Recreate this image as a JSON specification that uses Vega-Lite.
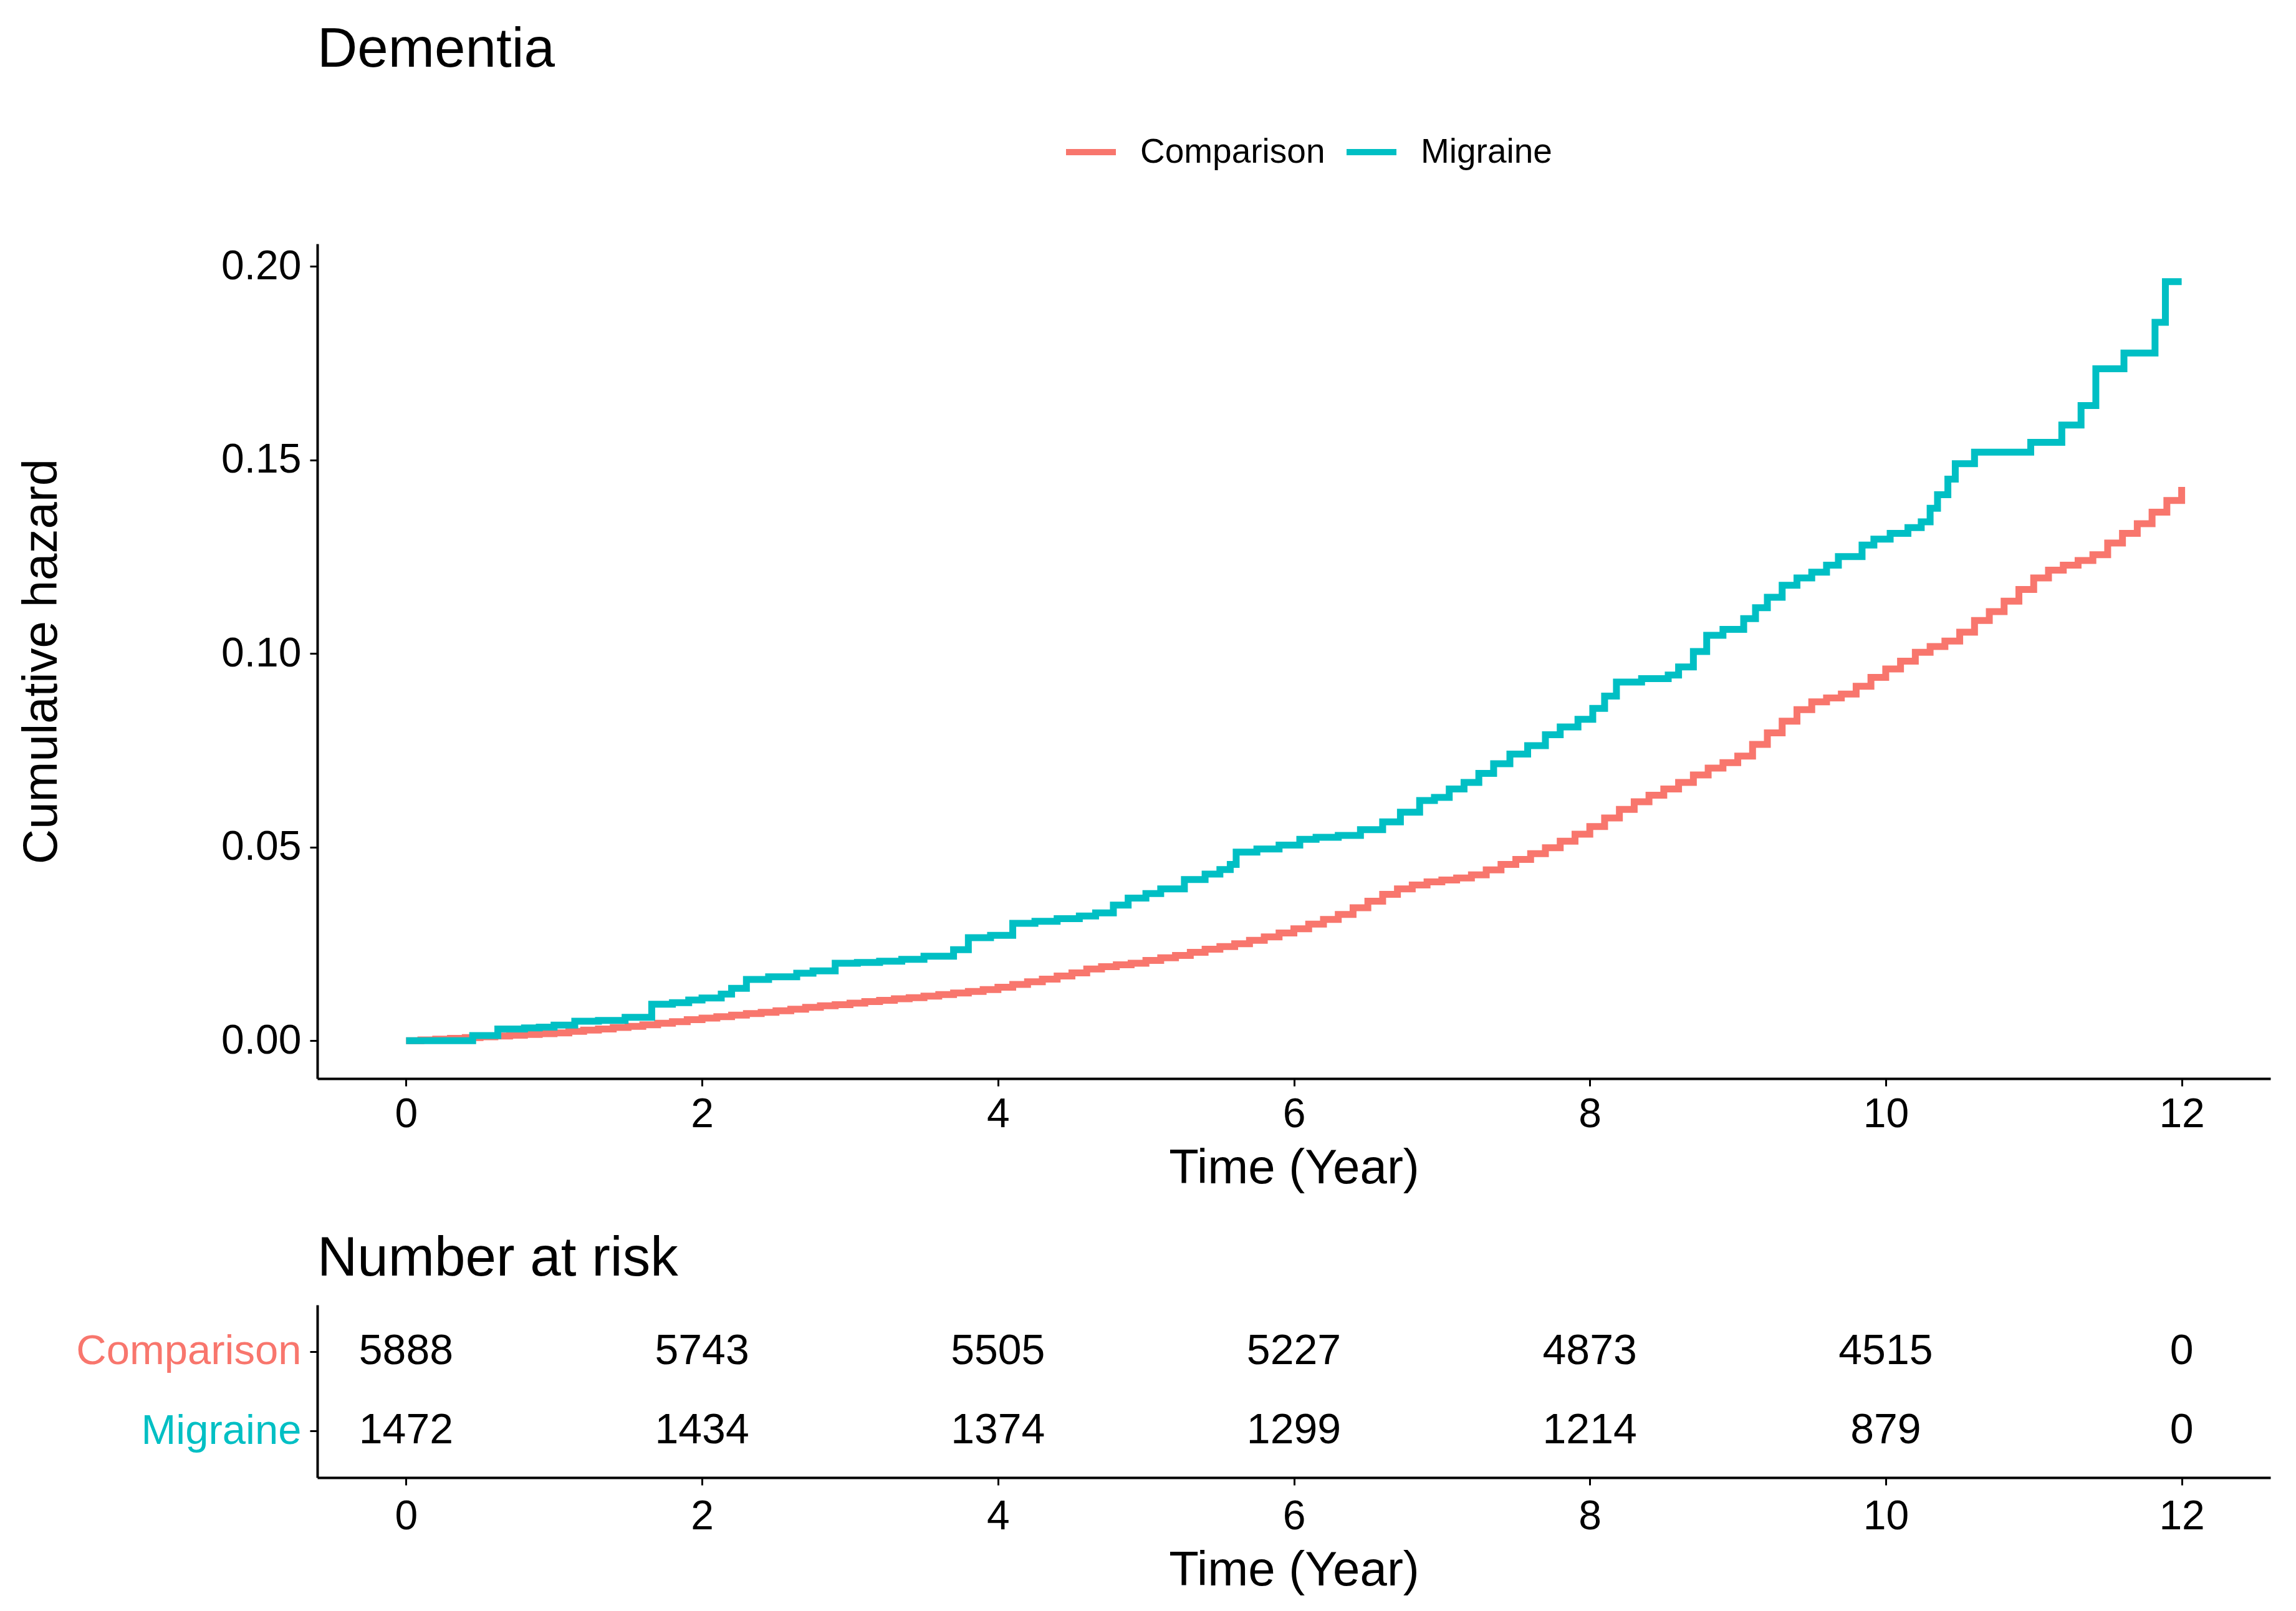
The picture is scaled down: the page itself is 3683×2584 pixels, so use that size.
{
  "$schema": "https://vega.github.io/schema/vega-lite/v6.json",
  "background": "white",
  "padding": {"left": 28, "top": 36, "right": 30, "bottom": 27},
  "config": {"font": "Liberation Sans", "view": {"stroke": null}, "concat": {"spacing": 62}},
  "datasets": {
    "hazard": [
      {"group": "Comparison", "time": 0.0, "hazard": 0},
      {"group": "Comparison", "time": 0.1, "hazard": 0.0002},
      {"group": "Comparison", "time": 0.2, "hazard": 0.0004},
      {"group": "Comparison", "time": 0.3, "hazard": 0.0006},
      {"group": "Comparison", "time": 0.4, "hazard": 0.0008},
      {"group": "Comparison", "time": 0.5, "hazard": 0.001},
      {"group": "Comparison", "time": 0.6, "hazard": 0.0012},
      {"group": "Comparison", "time": 0.7, "hazard": 0.0014},
      {"group": "Comparison", "time": 0.8, "hazard": 0.0016},
      {"group": "Comparison", "time": 0.9, "hazard": 0.0018},
      {"group": "Comparison", "time": 1.0, "hazard": 0.002},
      {"group": "Comparison", "time": 1.1, "hazard": 0.0024},
      {"group": "Comparison", "time": 1.2, "hazard": 0.0027},
      {"group": "Comparison", "time": 1.3, "hazard": 0.003},
      {"group": "Comparison", "time": 1.4, "hazard": 0.0034},
      {"group": "Comparison", "time": 1.5, "hazard": 0.0037},
      {"group": "Comparison", "time": 1.6, "hazard": 0.0041},
      {"group": "Comparison", "time": 1.7, "hazard": 0.0045},
      {"group": "Comparison", "time": 1.8, "hazard": 0.0049},
      {"group": "Comparison", "time": 1.9, "hazard": 0.0054},
      {"group": "Comparison", "time": 2.0, "hazard": 0.0058},
      {"group": "Comparison", "time": 2.1, "hazard": 0.0062},
      {"group": "Comparison", "time": 2.2, "hazard": 0.0066},
      {"group": "Comparison", "time": 2.3, "hazard": 0.007},
      {"group": "Comparison", "time": 2.4, "hazard": 0.0073},
      {"group": "Comparison", "time": 2.5, "hazard": 0.0077},
      {"group": "Comparison", "time": 2.6, "hazard": 0.0081},
      {"group": "Comparison", "time": 2.7, "hazard": 0.0086},
      {"group": "Comparison", "time": 2.8, "hazard": 0.009},
      {"group": "Comparison", "time": 2.9, "hazard": 0.0093},
      {"group": "Comparison", "time": 3.0, "hazard": 0.0097},
      {"group": "Comparison", "time": 3.1, "hazard": 0.0101},
      {"group": "Comparison", "time": 3.2, "hazard": 0.0104},
      {"group": "Comparison", "time": 3.3, "hazard": 0.0108},
      {"group": "Comparison", "time": 3.4, "hazard": 0.0111},
      {"group": "Comparison", "time": 3.5, "hazard": 0.0115},
      {"group": "Comparison", "time": 3.6, "hazard": 0.0119},
      {"group": "Comparison", "time": 3.7, "hazard": 0.0123},
      {"group": "Comparison", "time": 3.8, "hazard": 0.0127},
      {"group": "Comparison", "time": 3.9, "hazard": 0.0132},
      {"group": "Comparison", "time": 4.0, "hazard": 0.0138},
      {"group": "Comparison", "time": 4.1, "hazard": 0.0145},
      {"group": "Comparison", "time": 4.2, "hazard": 0.0152},
      {"group": "Comparison", "time": 4.3, "hazard": 0.0159},
      {"group": "Comparison", "time": 4.4, "hazard": 0.0167},
      {"group": "Comparison", "time": 4.5, "hazard": 0.0175},
      {"group": "Comparison", "time": 4.6, "hazard": 0.0185},
      {"group": "Comparison", "time": 4.7, "hazard": 0.0191},
      {"group": "Comparison", "time": 4.8, "hazard": 0.0196},
      {"group": "Comparison", "time": 4.9, "hazard": 0.0200},
      {"group": "Comparison", "time": 5.0, "hazard": 0.0207},
      {"group": "Comparison", "time": 5.1, "hazard": 0.0214},
      {"group": "Comparison", "time": 5.2, "hazard": 0.022},
      {"group": "Comparison", "time": 5.3, "hazard": 0.0228},
      {"group": "Comparison", "time": 5.4, "hazard": 0.0236},
      {"group": "Comparison", "time": 5.5, "hazard": 0.0243},
      {"group": "Comparison", "time": 5.6, "hazard": 0.025},
      {"group": "Comparison", "time": 5.7, "hazard": 0.0259},
      {"group": "Comparison", "time": 5.8, "hazard": 0.0268},
      {"group": "Comparison", "time": 5.9, "hazard": 0.0278},
      {"group": "Comparison", "time": 6.0, "hazard": 0.0289},
      {"group": "Comparison", "time": 6.1, "hazard": 0.0301},
      {"group": "Comparison", "time": 6.2, "hazard": 0.0313},
      {"group": "Comparison", "time": 6.3, "hazard": 0.0326},
      {"group": "Comparison", "time": 6.4, "hazard": 0.0343},
      {"group": "Comparison", "time": 6.5, "hazard": 0.036},
      {"group": "Comparison", "time": 6.6, "hazard": 0.0378},
      {"group": "Comparison", "time": 6.7, "hazard": 0.0392},
      {"group": "Comparison", "time": 6.8, "hazard": 0.0402},
      {"group": "Comparison", "time": 6.9, "hazard": 0.041},
      {"group": "Comparison", "time": 7.0, "hazard": 0.0415},
      {"group": "Comparison", "time": 7.1, "hazard": 0.042},
      {"group": "Comparison", "time": 7.2, "hazard": 0.0428},
      {"group": "Comparison", "time": 7.3, "hazard": 0.0441},
      {"group": "Comparison", "time": 7.4, "hazard": 0.0455},
      {"group": "Comparison", "time": 7.5, "hazard": 0.0468},
      {"group": "Comparison", "time": 7.6, "hazard": 0.0483},
      {"group": "Comparison", "time": 7.7, "hazard": 0.0498},
      {"group": "Comparison", "time": 7.8, "hazard": 0.0515},
      {"group": "Comparison", "time": 7.9, "hazard": 0.0533},
      {"group": "Comparison", "time": 8.0, "hazard": 0.0553},
      {"group": "Comparison", "time": 8.1, "hazard": 0.0575},
      {"group": "Comparison", "time": 8.2, "hazard": 0.0597},
      {"group": "Comparison", "time": 8.3, "hazard": 0.0617},
      {"group": "Comparison", "time": 8.4, "hazard": 0.0634},
      {"group": "Comparison", "time": 8.5, "hazard": 0.065},
      {"group": "Comparison", "time": 8.6, "hazard": 0.0667},
      {"group": "Comparison", "time": 8.7, "hazard": 0.0686},
      {"group": "Comparison", "time": 8.8, "hazard": 0.0704},
      {"group": "Comparison", "time": 8.9, "hazard": 0.0718},
      {"group": "Comparison", "time": 9.0, "hazard": 0.0735},
      {"group": "Comparison", "time": 9.1, "hazard": 0.0765},
      {"group": "Comparison", "time": 9.2, "hazard": 0.0795},
      {"group": "Comparison", "time": 9.3, "hazard": 0.0825},
      {"group": "Comparison", "time": 9.4, "hazard": 0.0855},
      {"group": "Comparison", "time": 9.5, "hazard": 0.0875},
      {"group": "Comparison", "time": 9.6, "hazard": 0.0885},
      {"group": "Comparison", "time": 9.7, "hazard": 0.0895},
      {"group": "Comparison", "time": 9.8, "hazard": 0.0915},
      {"group": "Comparison", "time": 9.9, "hazard": 0.0938},
      {"group": "Comparison", "time": 10.0, "hazard": 0.096},
      {"group": "Comparison", "time": 10.1, "hazard": 0.098},
      {"group": "Comparison", "time": 10.2, "hazard": 0.1003},
      {"group": "Comparison", "time": 10.3, "hazard": 0.1018},
      {"group": "Comparison", "time": 10.4, "hazard": 0.1032},
      {"group": "Comparison", "time": 10.5, "hazard": 0.1055},
      {"group": "Comparison", "time": 10.6, "hazard": 0.1085},
      {"group": "Comparison", "time": 10.7, "hazard": 0.1108},
      {"group": "Comparison", "time": 10.8, "hazard": 0.1135},
      {"group": "Comparison", "time": 10.9, "hazard": 0.1165},
      {"group": "Comparison", "time": 11.0, "hazard": 0.1195},
      {"group": "Comparison", "time": 11.1, "hazard": 0.1215},
      {"group": "Comparison", "time": 11.2, "hazard": 0.1228},
      {"group": "Comparison", "time": 11.3, "hazard": 0.124},
      {"group": "Comparison", "time": 11.4, "hazard": 0.1255},
      {"group": "Comparison", "time": 11.5, "hazard": 0.1285},
      {"group": "Comparison", "time": 11.6, "hazard": 0.131},
      {"group": "Comparison", "time": 11.7, "hazard": 0.1335},
      {"group": "Comparison", "time": 11.8, "hazard": 0.1365},
      {"group": "Comparison", "time": 11.9, "hazard": 0.1395},
      {"group": "Comparison", "time": 12.0, "hazard": 0.143},
      {"group": "Migraine", "time": 0, "hazard": 0},
      {"group": "Migraine", "time": 0.45, "hazard": 0.0013},
      {"group": "Migraine", "time": 0.62, "hazard": 0.003},
      {"group": "Migraine", "time": 0.8, "hazard": 0.0033},
      {"group": "Migraine", "time": 0.9, "hazard": 0.0035},
      {"group": "Migraine", "time": 1.0, "hazard": 0.004},
      {"group": "Migraine", "time": 1.14, "hazard": 0.005},
      {"group": "Migraine", "time": 1.3, "hazard": 0.0052},
      {"group": "Migraine", "time": 1.48, "hazard": 0.006},
      {"group": "Migraine", "time": 1.66, "hazard": 0.0094},
      {"group": "Migraine", "time": 1.8, "hazard": 0.0098},
      {"group": "Migraine", "time": 1.91, "hazard": 0.0105},
      {"group": "Migraine", "time": 2.0, "hazard": 0.011},
      {"group": "Migraine", "time": 2.13, "hazard": 0.012},
      {"group": "Migraine", "time": 2.2, "hazard": 0.0135},
      {"group": "Migraine", "time": 2.3, "hazard": 0.0158},
      {"group": "Migraine", "time": 2.45, "hazard": 0.0165},
      {"group": "Migraine", "time": 2.64, "hazard": 0.0174},
      {"group": "Migraine", "time": 2.75, "hazard": 0.018},
      {"group": "Migraine", "time": 2.9, "hazard": 0.020},
      {"group": "Migraine", "time": 3.05, "hazard": 0.0202},
      {"group": "Migraine", "time": 3.2, "hazard": 0.0205},
      {"group": "Migraine", "time": 3.35, "hazard": 0.021},
      {"group": "Migraine", "time": 3.5, "hazard": 0.0218},
      {"group": "Migraine", "time": 3.7, "hazard": 0.0235},
      {"group": "Migraine", "time": 3.8, "hazard": 0.0266},
      {"group": "Migraine", "time": 3.95, "hazard": 0.0272},
      {"group": "Migraine", "time": 4.1, "hazard": 0.0303},
      {"group": "Migraine", "time": 4.25, "hazard": 0.0308},
      {"group": "Migraine", "time": 4.4, "hazard": 0.0315},
      {"group": "Migraine", "time": 4.55, "hazard": 0.0322},
      {"group": "Migraine", "time": 4.66, "hazard": 0.033},
      {"group": "Migraine", "time": 4.78, "hazard": 0.035},
      {"group": "Migraine", "time": 4.88, "hazard": 0.0368},
      {"group": "Migraine", "time": 5.0, "hazard": 0.038},
      {"group": "Migraine", "time": 5.1, "hazard": 0.0392},
      {"group": "Migraine", "time": 5.26, "hazard": 0.0416},
      {"group": "Migraine", "time": 5.4, "hazard": 0.043},
      {"group": "Migraine", "time": 5.5, "hazard": 0.0442},
      {"group": "Migraine", "time": 5.57, "hazard": 0.0455},
      {"group": "Migraine", "time": 5.61, "hazard": 0.0487},
      {"group": "Migraine", "time": 5.75, "hazard": 0.0495},
      {"group": "Migraine", "time": 5.9, "hazard": 0.0505},
      {"group": "Migraine", "time": 6.04, "hazard": 0.052},
      {"group": "Migraine", "time": 6.15, "hazard": 0.0525},
      {"group": "Migraine", "time": 6.3, "hazard": 0.053},
      {"group": "Migraine", "time": 6.45, "hazard": 0.0545},
      {"group": "Migraine", "time": 6.6, "hazard": 0.0565},
      {"group": "Migraine", "time": 6.72, "hazard": 0.059},
      {"group": "Migraine", "time": 6.85, "hazard": 0.062},
      {"group": "Migraine", "time": 6.95, "hazard": 0.0628},
      {"group": "Migraine", "time": 7.05, "hazard": 0.065},
      {"group": "Migraine", "time": 7.15, "hazard": 0.0667},
      {"group": "Migraine", "time": 7.25, "hazard": 0.069},
      {"group": "Migraine", "time": 7.35, "hazard": 0.0715},
      {"group": "Migraine", "time": 7.46, "hazard": 0.074},
      {"group": "Migraine", "time": 7.58, "hazard": 0.0762},
      {"group": "Migraine", "time": 7.7, "hazard": 0.079},
      {"group": "Migraine", "time": 7.8, "hazard": 0.081},
      {"group": "Migraine", "time": 7.92, "hazard": 0.083},
      {"group": "Migraine", "time": 8.02, "hazard": 0.0858},
      {"group": "Migraine", "time": 8.1, "hazard": 0.089},
      {"group": "Migraine", "time": 8.18, "hazard": 0.0926},
      {"group": "Migraine", "time": 8.35, "hazard": 0.0935},
      {"group": "Migraine", "time": 8.53, "hazard": 0.0944},
      {"group": "Migraine", "time": 8.6, "hazard": 0.0965},
      {"group": "Migraine", "time": 8.7, "hazard": 0.1005},
      {"group": "Migraine", "time": 8.79, "hazard": 0.1047},
      {"group": "Migraine", "time": 8.9, "hazard": 0.1062},
      {"group": "Migraine", "time": 9.04, "hazard": 0.109},
      {"group": "Migraine", "time": 9.12, "hazard": 0.1118},
      {"group": "Migraine", "time": 9.2, "hazard": 0.1145},
      {"group": "Migraine", "time": 9.3, "hazard": 0.1176},
      {"group": "Migraine", "time": 9.4, "hazard": 0.1195},
      {"group": "Migraine", "time": 9.5, "hazard": 0.121},
      {"group": "Migraine", "time": 9.6, "hazard": 0.1228},
      {"group": "Migraine", "time": 9.68, "hazard": 0.125},
      {"group": "Migraine", "time": 9.84, "hazard": 0.128},
      {"group": "Migraine", "time": 9.92, "hazard": 0.1295},
      {"group": "Migraine", "time": 10.03, "hazard": 0.131},
      {"group": "Migraine", "time": 10.15, "hazard": 0.1325},
      {"group": "Migraine", "time": 10.24, "hazard": 0.134},
      {"group": "Migraine", "time": 10.3, "hazard": 0.1375},
      {"group": "Migraine", "time": 10.35, "hazard": 0.141},
      {"group": "Migraine", "time": 10.42, "hazard": 0.145},
      {"group": "Migraine", "time": 10.47, "hazard": 0.149},
      {"group": "Migraine", "time": 10.6, "hazard": 0.152},
      {"group": "Migraine", "time": 10.98, "hazard": 0.1545},
      {"group": "Migraine", "time": 11.19, "hazard": 0.159},
      {"group": "Migraine", "time": 11.32, "hazard": 0.164},
      {"group": "Migraine", "time": 11.42, "hazard": 0.1735},
      {"group": "Migraine", "time": 11.61, "hazard": 0.1776},
      {"group": "Migraine", "time": 11.82, "hazard": 0.1855},
      {"group": "Migraine", "time": 11.89, "hazard": 0.196},
      {"group": "Migraine", "time": 12.0, "hazard": 0.196}
    ],
    "risk": [
      {"group": "Comparison", "time": 0, "n": 5888},
      {"group": "Comparison", "time": 2, "n": 5743},
      {"group": "Comparison", "time": 4, "n": 5505},
      {"group": "Comparison", "time": 6, "n": 5227},
      {"group": "Comparison", "time": 8, "n": 4873},
      {"group": "Comparison", "time": 10, "n": 4515},
      {"group": "Comparison", "time": 12, "n": 0},
      {"group": "Migraine", "time": 0, "n": 1472},
      {"group": "Migraine", "time": 2, "n": 1434},
      {"group": "Migraine", "time": 4, "n": 1374},
      {"group": "Migraine", "time": 6, "n": 1299},
      {"group": "Migraine", "time": 8, "n": 1214},
      {"group": "Migraine", "time": 10, "n": 879},
      {"group": "Migraine", "time": 12, "n": 0}
    ]
  },
  "resolve": {"scale": {"color": "independent"}},
  "vconcat": [
    {
      "width": 3133,
      "height": 1339,
      "title": {"text": "Dementia", "anchor": "start", "frame": "group", "fontSize": 89, "fontWeight": "normal", "font": "Liberation Sans", "color": "black", "baseline": "bottom", "offset": -16},
      "data": {"name": "hazard"},
      "mark": {"type": "line", "interpolate": "step-after", "strokeWidth": 11},
      "encoding": {
        "x": {
          "field": "time", "type": "quantitative",
          "scale": {"domain": [-0.6, 12.6], "nice": false, "zero": false},
          "axis": {"values": [0, 2, 4, 6, 8, 10, 12], "title": "Time (Year)", "titleFontSize": 78, "titleFontWeight": "normal", "titleColor": "black", "titlePadding": 15, "labelFontSize": 66, "labelColor": "black", "labelPadding": 13, "grid": false, "domainColor": "black", "domainWidth": 4, "tickColor": "black", "tickWidth": 3, "tickSize": 12, "labelFlush": false}
        },
        "y": {
          "field": "hazard", "type": "quantitative",
          "scale": {"domain": [-0.0098, 0.2058], "nice": false, "zero": false},
          "axis": {"values": [0, 0.05, 0.1, 0.15, 0.2], "format": ".2f", "title": "Cumulative hazard", "titleFontSize": 78, "titleFontWeight": "normal", "titleColor": "black", "titlePadding": 248, "labelFontSize": 66, "labelColor": "black", "labelPadding": 14, "grid": false, "domainColor": "black", "domainWidth": 4, "tickColor": "black", "tickWidth": 3, "tickSize": 12, "labelFlush": false}
        },
        "color": {
          "field": "group", "type": "nominal",
          "scale": {"domain": ["Comparison", "Migraine"], "range": ["#F8766D", "#00BFC4"]},
          "legend": {"title": null, "orient": "none", "direction": "horizontal", "legendX": 1196, "legendY": -192, "symbolType": "stroke", "symbolSize": 6400, "symbolStrokeWidth": 10, "labelFontSize": 55, "labelColor": "black", "labelLimit": 0, "labelOffset": 34, "columnPadding": 14, "padding": 0}
        }
      }
    },
    {
      "width": 3133,
      "height": 277,
      "title": {"text": "Number at risk", "anchor": "start", "frame": "group", "fontSize": 89, "fontWeight": "normal", "font": "Liberation Sans", "color": "black", "baseline": "bottom", "offset": -61},
      "data": {"name": "risk"},
      "mark": {"type": "text", "fontSize": 68, "color": "black", "font": "Liberation Sans"},
      "encoding": {
        "x": {
          "field": "time", "type": "quantitative",
          "scale": {"domain": [-0.6, 12.6], "nice": false, "zero": false},
          "axis": {"values": [0, 2, 4, 6, 8, 10, 12], "title": "Time (Year)", "titleFontSize": 78, "titleFontWeight": "normal", "titleColor": "black", "titlePadding": 15, "labelFontSize": 66, "labelColor": "black", "labelPadding": 18, "grid": false, "domainColor": "black", "domainWidth": 4, "tickColor": "black", "tickWidth": 3, "tickSize": 12, "labelFlush": false}
        },
        "y": {
          "field": "group", "type": "nominal",
          "scale": {"type": "point", "domain": ["Comparison", "Migraine"], "padding": 0.59},
          "axis": {"title": null, "labelFontSize": 67, "labelLimit": 0, "labelPadding": 14, "labelColor": {"expr": "datum.value === 'Comparison' ? '#F8766D' : '#00BFC4'"}, "domainColor": "black", "domainWidth": 4, "tickColor": "black", "tickWidth": 3, "tickSize": 12, "grid": false}
        },
        "text": {"field": "n", "type": "quantitative"}
      }
    }
  ]
}
